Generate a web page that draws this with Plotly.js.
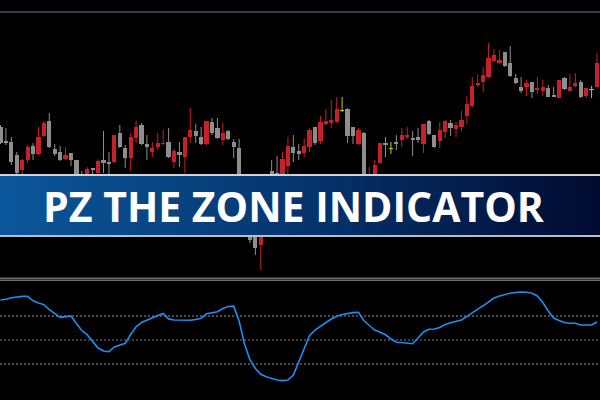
<!DOCTYPE html>
<html>
<head>
<meta charset="utf-8">
<script src="https://cdn.plot.ly/plotly-3.0.1.min.js"></script>
<style>
  html, body { margin: 0; padding: 0; background: #000; }
  #chart { width: 600px; height: 400px; }
</style>
</head>
<body>
<div id="chart"></div>
<script>
// Price bars, one per session (open, high, low, close)
const openP  = [173,159,158,145,130,140,154,146,164,179,151,148,141,147,140,124,120,132,127,140,138,138,167,152,142,162,175,156,148,153,156,158,138,148,143,163,169,163,156,178,172,160,169,158,152,110,85,75,55,70,129,127,118,134,153,149,147,153,173,159,176,177,178,189,191,173,156,167,112,110,137,157,151,158,160,163,162,163,156,179,165,159,168,177,171,173,184,194,215,218,223,239,237,248,237,222,213,213,218,210,209,212,205,202,222,209,214,218,204,210,213];
const highP  = [175,172,163,148,141,155,157,173,179,187,156,154,153,147,140,129,133,132,141,169,148,165,175,155,167,179,177,165,158,167,170,172,151,158,163,192,176,173,179,182,182,177,170,161,161,115,90,80,80,125,140,144,148,163,165,156,162,172,173,184,191,200,203,203,192,173,172,168,133,140,157,163,158,165,172,173,169,172,176,180,165,178,180,180,178,189,204,223,226,233,257,251,250,248,254,226,223,220,218,223,220,215,213,220,223,226,227,220,212,214,247];
const lowP   = [156,155,135,126,126,137,140,145,163,152,144,139,140,134,118,114,116,124,124,127,122,137,152,132,129,157,155,140,143,150,155,142,132,133,127,157,157,155,155,165,161,155,160,142,110,78,57,45,30,65,100,108,112,125,138,140,143,148,155,156,175,172,177,188,157,156,155,110,105,105,137,143,146,150,153,161,144,157,147,165,152,152,162,164,163,169,176,193,213,208,222,238,236,233,223,216,207,204,202,206,204,203,203,202,210,209,213,202,202,202,213];
const closeP = [157,157,138,127,140,153,146,163,177,153,146,140,145,140,122,118,131,130,139,137,136,165,153,142,163,173,156,153,152,157,157,143,149,145,163,170,164,156,179,167,162,167,161,153,115,85,60,52,75,120,122,115,141,154,147,146,154,170,157,178,179,180,191,189,164,164,170,115,120,135,157,155,151,156,165,165,160,160,176,166,153,170,179,172,175,180,196,214,217,225,242,245,240,234,224,217,209,217,208,212,213,203,203,220,211,213,217,203,212,210,237];

// Oscillator shown in the lower pane, one value per bar
const zoneLine = [40,40.7,42.2,43.2,43.6,43.7,39.2,37,35.4,30.3,26.8,22.7,23.4,24,16.5,9.5,5.1,-1,-8,-11,-11.7,-7,-5.2,-3.3,5.5,13.3,17.5,20,22,24.5,26.5,21.1,20,19.7,19.3,19.7,20.5,21.8,26.3,27.3,28.2,31.5,33.5,33.8,19,-4,-20,-28.5,-34.3,-36.8,-38.2,-40,-40.6,-40,-35,-22,-8,4.5,10,14,17.5,21,23.8,25.5,26.8,27.4,27.7,19.5,14.5,10,7.8,5.2,1,-2.3,-2.5,-2.8,-3.7,2,8,10.8,11,12.5,15.5,17.3,18.8,20,23.7,27.6,30.8,34.2,38.5,42,44.1,45.6,46.8,47.5,48,47.7,46.7,44,37.5,29,22,19.5,17.5,16.8,16.7,15,15,15,18];

// Reference levels of the oscillator
const zoneLevels = [24, 0, -24];

const bannerTitle = 'PZ THE ZONE INDICATOR';

const UP = '#c8202a', DOWN = '#8e8e8e', DOJI = '#c9c400';

const idx = openP.map((_, i) => i);
const colorOf = i => closeP[i] > openP[i] ? UP : (closeP[i] < openP[i] ? DOWN : DOJI);

// wick segments grouped by colour
function wickTrace(col) {
  const xs = [], ys = [];
  idx.forEach(i => {
    if (colorOf(i) === col) { xs.push(i, i, null); ys.push(lowP[i], highP[i], null); }
  });
  return { type: 'scatter', mode: 'lines', x: xs, y: ys, xaxis: 'x', yaxis: 'y',
           line: { color: col, width: 1 }, hoverinfo: 'skip', connectgaps: false };
}

const bodies = {
  type: 'bar', x: idx,
  base: idx.map(i => Math.min(openP[i], closeP[i])),
  y: idx.map(i => Math.max(Math.abs(closeP[i] - openP[i]), 1)),
  width: 0.78,
  marker: { color: idx.map(colorOf), line: { width: 0 } },
  xaxis: 'x', yaxis: 'y', hoverinfo: 'skip'
};

const osc = {
  type: 'scatter', mode: 'lines', x: idx, y: zoneLine, xaxis: 'x', yaxis: 'y2',
  line: { color: '#1e8ff0', width: 1.6 }, hoverinfo: 'skip'
};

const traces = [wickTrace(UP), wickTrace(DOWN), wickTrace(DOJI), bodies, osc];

// banner background: horizontal blue gradient with thin light borders
const bannerSvg =
  '<svg xmlns="http://www.w3.org/2000/svg" width="600" height="63" viewBox="0 0 600 63" preserveAspectRatio="none">' +
  '<defs><linearGradient id="g" x1="0" y1="0" x2="1" y2="0">' +
  '<stop offset="0" stop-color="#0b579b"/><stop offset="0.5" stop-color="#05356f"/>' +
  '<stop offset="1" stop-color="#010a30"/></linearGradient></defs>' +
  '<rect x="0" y="0" width="600" height="63" fill="url(#g)"/>' +
  '<rect x="0" y="0" width="600" height="2" fill="#cfd3d8"/>' +
  '<rect x="0" y="61" width="600" height="2" fill="#b9bec4"/>' +
  '</svg>';

const shapes = [
  { type: 'line', xref: 'paper', yref: 'paper', x0: 0, x1: 1, y0: 0.97, y1: 0.97,
    line: { color: '#49525b', width: 1.5 } },
  { type: 'line', xref: 'paper', yref: 'paper', x0: 0, x1: 1, y0: 0.3045, y1: 0.3045,
    line: { color: '#a0a0a0', width: 1 } },
  { type: 'line', xref: 'paper', yref: 'paper', x0: 0, x1: 1, y0: 0.2995, y1: 0.2995,
    line: { color: '#a0a0a0', width: 1 } }
].concat(zoneLevels.map(v => ({
  type: 'line', xref: 'paper', yref: 'y2', x0: 0, x1: 1, y0: v, y1: v,
  line: { color: v === 0 ? '#7a7a7a' : '#9a9a9a', width: 1, dash: '2px,2px' }, layer: 'below'
})));

const layout = {
  width: 600, height: 400,
  margin: { l: 0, r: 0, t: 0, b: 0 },
  paper_bgcolor: '#000', plot_bgcolor: '#000',
  showlegend: false, bargap: 0, barmode: 'overlay',
  xaxis: { range: [-0.092, 110.55], visible: false, fixedrange: true },
  yaxis: { domain: [0.305, 0.97], range: [22, 288], visible: false, fixedrange: true },
  yaxis2: { domain: [0, 0.2975], range: [-60, 59], visible: false, fixedrange: true },
  shapes: shapes,
  images: [{
    source: 'data:image/svg+xml;charset=utf-8,' + encodeURIComponent(bannerSvg),
    xref: 'paper', yref: 'paper', x: 0, y: 0.565, sizex: 1, sizey: 0.1575,
    xanchor: 'left', yanchor: 'top', sizing: 'stretch', layer: 'above'
  }],
  annotations: [{
    text: bannerTitle, xref: 'paper', yref: 'paper', x: 0.49, y: 0.484,
    xanchor: 'center', yanchor: 'middle', showarrow: false,
    font: { family: 'Open Sans, sans-serif', size: 41, color: '#ffffff', weight: 700 }
  }]
};

Plotly.newPlot('chart', traces, layout, { staticPlot: true, displayModeBar: false });
</script>
</body>
</html>
